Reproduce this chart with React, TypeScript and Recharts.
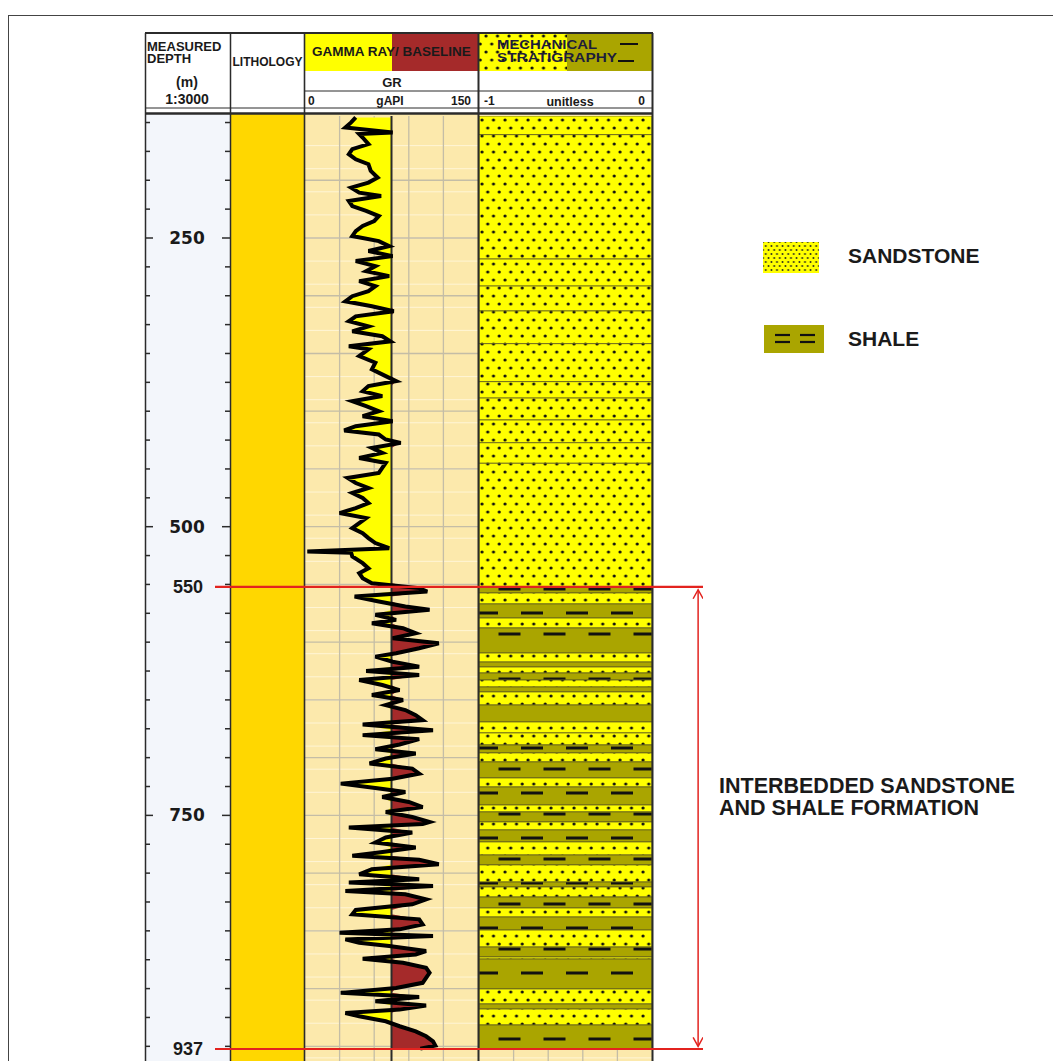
import React from "react";
import {
  Area,
  CartesianGrid,
  ComposedChart,
  Line,
  ReferenceArea,
  ReferenceLine,
  XAxis,
  YAxis
} from "recharts";

const FONT = '"Liberation Sans", Arial, Helvetica, sans-serif';
const INK = "#1a1a1a";
const SAND = "#FFFF00";
const SHALE = "#AAA500";
const GR_RED = "#A52A2A";
const TRACK_BG = "#FCE9AC";
const DEPTH_BG = "#F3F6FB";
const LITHO = "#FFD700";
const RED = "#E3231F";
const BORDER = "#2b2b2b";

// depth window shown by every track (m)
const DEPTH_DOMAIN: [number, number] = [144.35, 962.7];
const TRACK_TOP = 116;
const TRACK_H = 945;

const DEPTH_TICKS = [
  150, 175, 200, 225, 250, 275, 300, 325, 350, 375, 400, 425, 450, 475, 500, 525, 550,
  575, 600, 625, 650, 675, 700, 725, 750, 775, 800, 825, 850, 875, 900, 925, 950
];
const DEPTH_LABELS = [250, 500, 750];
const GRID_MAJOR = [150, 200, 250, 300, 350, 400, 450, 500, 550, 600, 650, 700, 750, 800, 850, 900, 950];
const GRID_MINOR = Array.from({ length: 164 }, (_, i) => 145 + i * 5);

const GR_MIN = 0;
const GR_MAX = 150;
const GR_BASELINE = 75;
const GR_GRID = [30, 60, 90, 120];
const MECH_GRID = [-0.8, -0.6, -0.4, -0.2];

// gamma ray log
const GR_DEPTH = [
  145.6, 149.9, 154.3, 158.6, 160.0, 163.0, 168.7, 173.0, 177.4, 181.8, 186.1, 191.9, 197.7,
  202.0, 206.4, 210.7, 213.6, 218.0, 222.3, 226.6, 231.0, 235.3, 239.6, 244.0, 248.3, 252.7,
  257.0, 261.3, 265.7, 270.0, 274.4, 278.7, 283.0, 287.4, 291.7, 296.0, 300.4, 304.8, 309.1,
  313.4, 317.8, 322.1, 326.5, 330.8, 335.1, 339.5, 343.8,
  346.4, 352.2, 358.0, 363.8, 369.6, 373.9, 378.2, 382.6, 386.9, 391.3, 395.6, 400.0, 404.3,
  408.6, 413.0, 416.7, 420.2, 424.5, 427.4, 431.8, 436.1, 440.5, 444.8, 449.1, 453.5, 457.8,
  462.2, 466.5, 470.8, 475.2, 479.5, 483.9, 488.2, 492.5, 496.9, 501.2, 505.6, 509.9, 514.2,
  518.6, 521.5, 522.5, 525.8, 531.6, 536.0, 540.3, 544.6, 549.0,
  553.2, 556.1, 560.4, 564.8, 569.1, 572.0, 576.3, 580.7, 583.6, 587.9, 592.3, 596.6, 601.0,
  605.3, 609.6, 612.5, 616.9, 621.2, 625.0, 628.4, 632.8, 637.1, 641.5, 645.8, 650.1, 654.5,
  658.8, 663.2, 667.5, 671.3, 676.2, 680.5, 684.0, 688.6, 692.7, 696.4, 700.8, 705.1, 709.5,
  713.8, 718.2, 722.5, 726.3, 729.7, 734.1, 738.4, 742.8, 747.1, 751.4, 755.8,
  757.5, 760.4, 764.8, 769.1, 773.5, 777.8, 782.1, 785.0, 788.5, 792.3, 796.6, 801.0, 805.3,
  808.2, 811.1, 815.4, 818.3, 822.7, 827.0, 831.9, 835.7, 840.0, 844.4, 848.7, 851.6, 854.5,
  857.4, 860.3, 863.2, 867.5, 870.4, 874.2, 877.6, 882.0, 886.3, 890.7, 895.0, 899.4, 903.7,
  907.2, 910.9, 914.7, 918.2, 921.1, 924.0, 928.3, 932.6, 937.0, 941.3, 945.7, 949.4, 952.0
];
const GR_API = [
  44, 40, 35, 76, 47, 50, 55, 41, 38, 44, 55, 57, 63,
  55, 40, 47, 66, 38, 41, 53, 64, 60, 50, 44, 41, 64,
  73, 55, 76, 44, 61, 53, 73, 47, 61, 55, 41, 35, 58,
  77, 44, 38, 55, 41, 67, 74, 38,
  55, 47, 61, 58, 70, 79, 55, 50, 67, 41, 53, 64, 50,
  76, 44, 34, 64, 70, 83, 58, 67, 47, 70, 67, 64, 37,
  44, 55, 41, 50, 55, 44, 30, 53, 47, 41, 50, 55, 61,
  73, 2, 40, 41, 50, 55, 47, 50, 58,
  99, 106, 43, 64, 87, 108, 61, 79, 58, 85, 96, 76, 116,
  99, 79, 61, 76, 99, 53, 99, 47, 67, 82, 58, 85, 70,
  87, 96, 102, 50, 111, 50, 99, 82, 61, 96, 70, 56, 93,
  99, 76, 31, 61, 87, 67, 90, 102, 70, 93, 108,
  102, 38, 93, 70, 61, 96, 64, 41, 99, 116, 58, 47, 99,
  38, 111, 35, 87, 105, 93, 44, 41, 99, 102, 82, 30, 111,
  35, 47, 73, 105, 96, 50, 85, 105, 108, 105, 102, 79, 31,
  99, 61, 105, 82, 35, 47, 70, 82, 96, 105, 111, 113, 100
];

// mechanical stratigraphy beds: boundaries (m) and the lithology between them
const BED_TOPS = [
  144.35, 160.5, 268.2, 291.6, 313.2, 341.5, 374.4, 388.6, 407.6, 427.3, 445.1, 552.2,
  557.4, 566.9, 579.1, 587.7, 609.4, 617.2, 621.5, 626.7, 632.8, 638.8, 643.1, 654.4,
  669.1, 678.6, 689.0, 695.9, 703.7, 717.6, 725.4, 741.0, 747.0, 755.7, 762.6, 773.0,
  784.3, 792.9, 807.7, 812.0, 820.7, 830.2, 838.0, 849.3, 864.0, 872.6, 874.4, 900.3,
  913.3, 917.7, 931.5, 952.3
];
const BED_KINDS = [
  "sand", "sand", "sand", "sand", "sand", "sand", "sand", "sand", "sand", "sand", "sand",
  "shale", "sand", "shale", "sand", "shale", "sand", "shale", "sand", "shale", "sand",
  "shale", "sand", "shale", "sand", "sand", "shale", "sand", "shale", "sand", "shale",
  "sand", "shale", "sand", "shale", "sand", "shale", "sand", "shale", "sand", "shale",
  "sand", "shale", "sand", "shale", "sand", "shale", "sand", "shale", "sand", "shale"
];

const MARKER_LABELS = ["550", "937"];
const MARKER_DEPTHS = [552.2, 952.3];
const ARROW_SPAN = [554.6, 950.0];
const ARROW_X = 0.99;

const LEGEND_LABELS = ["SANDSTONE", "SHALE"];
const FORMATION_LINES = ["INTERBEDDED SANDSTONE", "AND SHALE FORMATION"];

const grRows = GR_DEPTH.map((depth, i) => ({
  depth,
  gr: GR_API[i],
  lo: Math.min(GR_API[i], GR_BASELINE),
  hi: Math.max(GR_API[i], GR_BASELINE)
}));

const beds = BED_KINDS.map((kind, i) => ({ kind, top: BED_TOPS[i], base: BED_TOPS[i + 1] }));

const NO_MARGIN = { top: 0, right: 0, bottom: 0, left: 0 };

function Abs({ l, t, w, h, style, children }: any) {
  return (
    <div style={{ position: "absolute", left: l, top: t, width: w, height: h, ...style }}>
      {children}
    </div>
  );
}

function DepthTick(props: any) {
  const { y, payload } = props;
  const major = DEPTH_LABELS.includes(payload.value);
  const len = major ? 8 : 5;
  return (
    <g>
      <line x1={0} x2={len} y1={y} y2={y} stroke={BORDER} strokeWidth={1.5} />
      <line x1={85 - len} x2={85} y1={y} y2={y} stroke={BORDER} strokeWidth={1.5} />
      {major && (
        <text
          x={42}
          y={y}
          dy={6}
          textAnchor="middle"
          fontFamily='"DejaVu Sans", sans-serif'
          fontWeight={700}
          fontSize={17}
          fill={INK}
        >
          {payload.value}
        </text>
      )}
    </g>
  );
}

function ArrowShape(props: any) {
  const { x1, y1, x2, y2 } = props;
  const a = 5;
  const b = 9;
  return (
    <g stroke={RED} strokeWidth={1.5} fill="none">
      <line x1={x1} y1={y1} x2={x2} y2={y2} />
      <polyline points={`${x1 - a},${y1 + b} ${x1},${y1} ${x1 + a},${y1 + b}`} />
      <polyline points={`${x2 - a},${y2 - b} ${x2},${y2} ${x2 + a},${y2 - b}`} />
    </g>
  );
}

function Patterns() {
  return (
    <svg width={0} height={0} style={{ position: "absolute" }}>
      <defs>
        <pattern id="sandPat" patternUnits="userSpaceOnUse" width={11.5} height={16}>
          <rect width={11.5} height={16} fill={SAND} />
          <circle cx={3} cy={4} r={1.6} fill="#111" />
          <circle cx={8.75} cy={12} r={1.6} fill="#111" />
        </pattern>
        <pattern id="shalePat" patternUnits="userSpaceOnUse" x={-3} width={45} height={45}>
          <rect width={45} height={45} fill={SHALE} />
          <rect x={0} y={0.5} width={22} height={3} fill="#111" />
          <rect x={22.5} y={21.5} width={22} height={3} fill="#111" />
        </pattern>
        <pattern id="legSandPat" patternUnits="userSpaceOnUse" width={5.6} height={8}>
          <rect width={5.6} height={8} fill={SAND} />
          <circle cx={1.4} cy={2} r={0.95} fill="#222" />
          <circle cx={4.2} cy={6} r={0.95} fill="#222" />
        </pattern>
      </defs>
    </svg>
  );
}

// invisible helper series so that the axes of a decoration-only chart get a scale
function Ghost() {
  return (
    <Line
      dataKey="gr"
      stroke="none"
      dot={false}
      activeDot={false}
      legendType="none"
      isAnimationActive={false}
    />
  );
}

function DepthTrack() {
  return (
    <ComposedChart layout="vertical" width={85} height={TRACK_H} data={grRows} margin={NO_MARGIN}>
      <XAxis type="number" domain={[GR_MIN, GR_MAX]} hide allowDataOverflow />
      <YAxis
        type="number"
        dataKey="depth"
        domain={DEPTH_DOMAIN}
        ticks={DEPTH_TICKS}
        interval={0}
        allowDataOverflow
        axisLine={false}
        tickLine={false}
        width={1}
        tick={(p: any) => <DepthTick {...p} />}
      />
      {Ghost()}
    </ComposedChart>
  );
}

function GammaRayTrack() {
  return (
    <ComposedChart layout="vertical" width={173} height={TRACK_H} data={grRows} margin={NO_MARGIN}>
      <CartesianGrid horizontalValues={GRID_MINOR} vertical={false} stroke="#FFF5D6" strokeWidth={1} />
      <CartesianGrid horizontalValues={GRID_MAJOR} verticalValues={GR_GRID} stroke="#C4BDA6" strokeWidth={1.3} />
      <XAxis type="number" domain={[GR_MIN, GR_MAX]} hide allowDataOverflow />
      <YAxis type="number" dataKey="depth" domain={DEPTH_DOMAIN} hide allowDataOverflow />
      <Area
        dataKey="lo"
        baseValue={GR_BASELINE}
        type="linear"
        fill={SAND}
        fillOpacity={1}
        stroke="none"
        isAnimationActive={false}
      />
      <Area
        dataKey="hi"
        baseValue={GR_BASELINE}
        type="linear"
        fill={GR_RED}
        fillOpacity={1}
        stroke="none"
        isAnimationActive={false}
      />
      <ReferenceLine x={GR_BASELINE} stroke={BORDER} strokeWidth={2} />
      <Line
        dataKey="gr"
        type="linear"
        stroke="#000"
        strokeWidth={4}
        dot={false}
        activeDot={false}
        isAnimationActive={false}
      />
    </ComposedChart>
  );
}

function MechTrack() {
  return (
    <ComposedChart layout="vertical" width={173} height={TRACK_H} data={grRows} margin={NO_MARGIN}>
      <CartesianGrid horizontalValues={GRID_MINOR} vertical={false} stroke="#FFF5D6" strokeWidth={1} />
      <CartesianGrid horizontalValues={GRID_MAJOR} verticalValues={MECH_GRID} stroke="#C4BDA6" strokeWidth={1.3} />
      <XAxis type="number" domain={[-1, 0]} hide allowDataOverflow />
      <YAxis type="number" dataKey="depth" domain={DEPTH_DOMAIN} hide allowDataOverflow />
      {beds.map((b) => (
        <ReferenceArea
          key={b.top}
          y1={b.top}
          y2={b.base}
          fill={b.kind === "sand" ? "url(#sandPat)" : "url(#shalePat)"}
          fillOpacity={1}
          stroke="#5f5c1e"
          strokeWidth={0.8}
          ifOverflow="visible"
        />
      ))}
    </ComposedChart>
  );
}

function MarkerOverlay() {
  return (
    <ComposedChart
      layout="vertical"
      width={543}
      height={TRACK_H}
      data={grRows}
      margin={{ top: 0, right: 0, bottom: 0, left: 55 }}
    >
      <XAxis type="number" domain={[0, 1]} hide allowDataOverflow />
      <YAxis type="number" dataKey="depth" domain={DEPTH_DOMAIN} hide allowDataOverflow />
      {Ghost()}
      {MARKER_DEPTHS.map((d, i) => (
        <ReferenceLine
          key={d}
          y={d}
          stroke={RED}
          strokeWidth={2.2}
          ifOverflow="visible"
          label={{
            value: MARKER_LABELS[i],
            position: "left",
            offset: 12,
            fill: INK,
            fontSize: 18,
            fontWeight: 700,
            fontFamily: FONT
          }}
        />
      ))}
      <ReferenceLine
        segment={[
          { x: ARROW_X, y: ARROW_SPAN[0] },
          { x: ARROW_X, y: ARROW_SPAN[1] }
        ]}
        ifOverflow="visible"
        shape={(p: any) => <ArrowShape {...p} />}
      />
    </ComposedChart>
  );
}

function Frame() {
  const hdr = { fontFamily: FONT, fontWeight: 700, fill: INK } as const;
  return (
    <svg width={1053} height={1061} style={{ position: "absolute", left: 0, top: 0, pointerEvents: "none" }}>
      <rect x={8.5} y={15.5} width={1060} height={1060} fill="none" stroke="#444" strokeWidth={1} />

      {/* header colour bands */}
      <rect x={305} y={34} width={87} height={37} fill={SAND} />
      <rect x={392} y={34} width={86} height={37} fill={GR_RED} />
      <rect x={479} y={34} width={88} height={37} fill="url(#sandPat)" />
      <rect x={567} y={34} width={85} height={37} fill={SHALE} />
      <line x1={620} x2={638} y1={44} y2={44} stroke="#111" strokeWidth={2} />
      <line x1={618} x2={634} y1={61} y2={61} stroke="#111" strokeWidth={2} />

      {/* header rules */}
      <line x1={145} x2={653} y1={33} y2={33} stroke={BORDER} strokeWidth={2.2} />
      <line x1={305} x2={652} y1={91} y2={91} stroke={BORDER} strokeWidth={1} />
      <line x1={145} x2={653} y1={108} y2={108} stroke={BORDER} strokeWidth={1} />
      <line x1={145} x2={653} y1={113.5} y2={113.5} stroke={BORDER} strokeWidth={2.5} />

      {/* column borders */}
      <line x1={145.5} x2={145.5} y1={33} y2={1061} stroke={BORDER} strokeWidth={1.5} />
      <line x1={230.5} x2={230.5} y1={33} y2={1061} stroke={BORDER} strokeWidth={1.5} />
      <line x1={304.5} x2={304.5} y1={33} y2={1061} stroke={BORDER} strokeWidth={1.6} />
      <line x1={478.5} x2={478.5} y1={33} y2={1061} stroke={BORDER} strokeWidth={2} />
      <line x1={652.5} x2={652.5} y1={33} y2={1061} stroke={BORDER} strokeWidth={2} />

      {/* header text */}
      <text x={147} y={50.5} fontSize={13} {...hdr}>MEASURED</text>
      <text x={147} y={63} fontSize={13} {...hdr}>DEPTH</text>
      <text x={187} y={87} fontSize={14} textAnchor="middle" {...hdr}>(m)</text>
      <text x={187} y={104} fontSize={14} textAnchor="middle" {...hdr}>1:3000</text>
      <text x={267.5} y={66} fontSize={12} textAnchor="middle" {...hdr}>LITHOLOGY</text>
      <text x={391.5} y={55.5} fontSize={13.5} textAnchor="middle" {...hdr}>GAMMA RAY/ BASELINE</text>
      <text x={392} y={86.5} fontSize={13} textAnchor="middle" {...hdr}>GR</text>
      <text x={308} y={105} fontSize={12} {...hdr}>{GR_MIN}</text>
      <text x={390} y={105} fontSize={12} textAnchor="middle" {...hdr}>gAPI</text>
      <text x={471} y={105} fontSize={12} textAnchor="end" {...hdr}>{GR_MAX}</text>
      <text x={497} y={48.5} fontSize={13} textLength={100} lengthAdjust="spacingAndGlyphs" {...hdr} fill="#1d1d3b">MECHANICAL</text>
      <text x={497} y={61.5} fontSize={13} textLength={120} lengthAdjust="spacingAndGlyphs" {...hdr} fill="#1d1d3b">STRATIGRAPHY</text>
      <text x={484} y={105} fontSize={12} {...hdr}>-1</text>
      <text x={570} y={106} fontSize={12.5} textAnchor="middle" {...hdr}>unitless</text>
      <text x={645} y={105} fontSize={12} textAnchor="end" {...hdr}>0</text>

      {/* legend */}
      <rect x={763} y={242} width={56} height={31} fill="url(#legSandPat)" />
      <rect x={764} y={325} width={60} height={28} fill={SHALE} />
      {[335, 342].map((y) => (
        <g key={y} stroke="#111" strokeWidth={2.2}>
          <line x1={775} x2={790} y1={y} y2={y} />
          <line x1={800} x2={815} y1={y} y2={y} />
        </g>
      ))}
      <text x={848} y={263} fontSize={21} {...hdr}>{LEGEND_LABELS[0]}</text>
      <text x={848} y={345.5} fontSize={21} {...hdr}>{LEGEND_LABELS[1]}</text>

      {FORMATION_LINES.map((s, i) => (
        <text key={s} x={719} y={792.7 + i * 22.5} fontSize={21.5} {...hdr}>{s}</text>
      ))}
    </svg>
  );
}

export default function App() {
  return (
    <div
      style={{
        position: "absolute",
        left: 0,
        top: 0,
        width: 1053,
        height: 1061,
        overflow: "hidden",
        background: "#fff",
        fontFamily: FONT
      }}
    >
      <Patterns />
      <Abs l={146} t={114} w={84} h={947} style={{ background: DEPTH_BG }} />
      <Abs l={231} t={114} w={73} h={947} style={{ background: LITHO }} />
      <Abs l={305} t={114} w={173} h={947} style={{ background: TRACK_BG }} />
      <Abs l={479} t={114} w={173} h={947} style={{ background: TRACK_BG }} />

      <Abs l={145} t={TRACK_TOP} w={85} h={TRACK_H}>
        <DepthTrack />
      </Abs>
      <Abs l={305} t={TRACK_TOP} w={173} h={TRACK_H}>
        <GammaRayTrack />
      </Abs>
      <Abs l={479} t={TRACK_TOP} w={173} h={TRACK_H}>
        <MechTrack />
      </Abs>

      <Frame />

      <Abs l={160} t={TRACK_TOP} w={543} h={TRACK_H}>
        <MarkerOverlay />
      </Abs>
    </div>
  );
}
